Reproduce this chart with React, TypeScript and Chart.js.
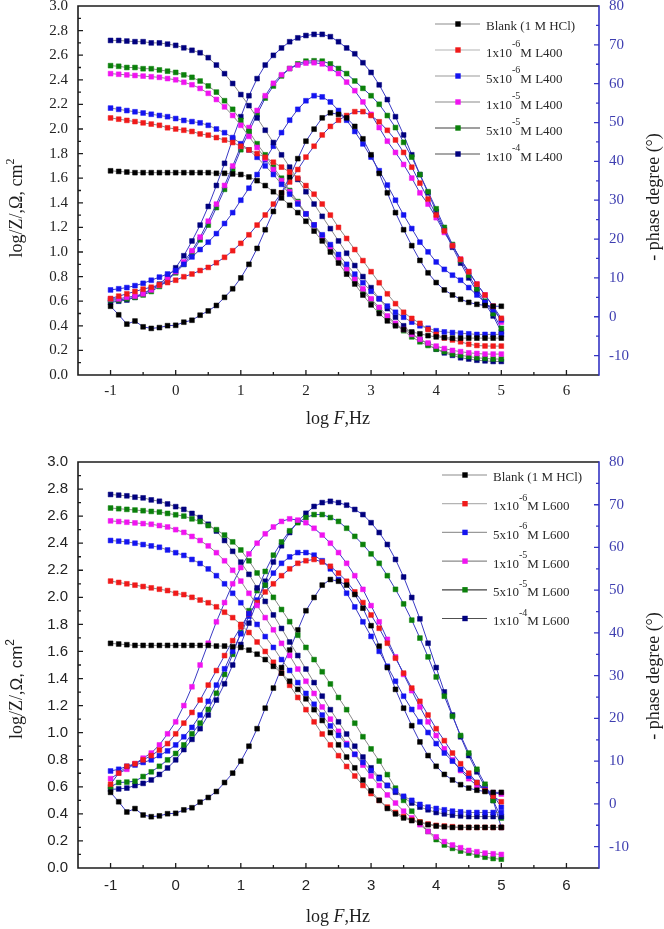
import React, { useEffect, useRef } from "react";
import { Chart, registerables } from "chart.js";

Chart.register(...registerables);

// ---------------- data ----------------
const LOG_F = [
  -1, -0.875, -0.75, -0.625, -0.5, -0.375, -0.25, -0.125, 0, 0.125, 0.25, 0.375, 0.5, 0.625, 0.75, 0.875,
  1, 1.125, 1.25, 1.375, 1.5, 1.625, 1.75, 1.875, 2, 2.125, 2.25, 2.375, 2.5, 2.625, 2.75, 2.875,
  3, 3.125, 3.25, 3.375, 3.5, 3.625, 3.75, 3.875, 4, 4.125, 4.25, 4.375, 4.5, 4.625, 4.75, 4.875, 5,
];

const X_TICKS = [-1, 0, 1, 2, 3, 4, 5, 6];
const Z_TICKS = [0, 0.2, 0.4, 0.6, 0.8, 1.0, 1.2, 1.4, 1.6, 1.8, 2.0, 2.2, 2.4, 2.6, 2.8, 3.0];
const PHASE_TICKS = [-10, 0, 10, 20, 30, 40, 50, 60, 70, 80];

const SERIES_COLORS = ["#000000", "#f01a1a", "#1414f0", "#f014f0", "#0b800b", "#00007e"];
const LEGEND_BASES = ["Blank (1 M HCl)", "1x10", "5x10", "1x10", "5x10", "1x10"];
const LEGEND_SUPS = ["", "-6", "-6", "-5", "-5", "-4"];
const LEGEND_LINE_COLORS = ["#8c8c8c", "#b4b4b4", "#9a9a9a", "#8a8a8a", "#404040", "#505050"];

// Blank (same in both panels)
const BLANK_Z = [1.66, 1.655, 1.65, 1.645, 1.645, 1.645, 1.645, 1.645, 1.645, 1.645, 1.645, 1.645, 1.645, 1.64, 1.64, 1.635, 1.63, 1.61, 1.58, 1.54, 1.49, 1.44, 1.38, 1.32, 1.25, 1.17, 1.09, 1.0, 0.91, 0.82, 0.74, 0.65, 0.57, 0.5, 0.44, 0.4, 0.37, 0.35, 0.335, 0.32, 0.31, 0.305, 0.3, 0.3, 0.3, 0.3, 0.3, 0.3, 0.3];
const BLANK_PHASE = [2.7, 0.5, -1.9, -1.1, -2.6, -3.0, -2.8, -2.3, -2.2, -1.4, -0.9, 0.4, 1.5, 2.9, 5.0, 7.2, 10.0, 13.5, 17.6, 22.4, 27.1, 31.9, 36.0, 40.7, 45.2, 48.3, 51.2, 52.5, 52.1, 51.2, 49.0, 45.8, 41.7, 36.9, 31.9, 26.8, 22.4, 18.3, 14.5, 11.3, 8.8, 6.9, 5.6, 4.5, 3.7, 3.2, 2.9, 2.7, 2.7];

// L400 panel
const L400_1E6_Z = [2.09, 2.08, 2.07, 2.06, 2.05, 2.04, 2.03, 2.01, 2.0, 1.99, 1.98, 1.96, 1.95, 1.93, 1.91, 1.89, 1.86, 1.83, 1.8, 1.77, 1.73, 1.69, 1.65, 1.6, 1.54, 1.47, 1.39, 1.3, 1.2, 1.11, 1.02, 0.93, 0.84, 0.75, 0.66, 0.58, 0.51, 0.46, 0.42, 0.37, 0.33, 0.3, 0.285, 0.27, 0.25, 0.24, 0.236, 0.235, 0.235];
const L400_1E6_PHASE = [4.7, 5.3, 5.9, 6.5, 7.1, 7.6, 8.2, 8.8, 9.4, 10.3, 11.0, 11.9, 12.7, 13.9, 15.3, 17.0, 18.9, 21.1, 23.6, 26.2, 29.0, 31.9, 34.7, 37.9, 41.1, 43.9, 46.8, 49.0, 50.6, 51.8, 52.8, 52.8, 51.8, 50.2, 48.0, 45.5, 42.3, 38.5, 34.4, 30.3, 26.2, 22.1, 18.3, 14.8, 11.6, 8.4, 5.6, 2.7, -0.4];
const L400_5E6_Z = [2.17, 2.16, 2.15, 2.14, 2.13, 2.12, 2.11, 2.1, 2.085, 2.07, 2.06, 2.05, 2.03, 2.0, 1.97, 1.93, 1.88, 1.83, 1.77, 1.7, 1.63, 1.55, 1.47, 1.39, 1.31, 1.22, 1.14, 1.06, 0.98, 0.9, 0.82, 0.75, 0.68, 0.62, 0.56, 0.51, 0.47, 0.43, 0.4, 0.38, 0.36, 0.35, 0.345, 0.34, 0.335, 0.33, 0.33, 0.33, 0.33];
const L400_5E6_PHASE = [6.9, 7.2, 7.5, 8.0, 8.6, 9.4, 10.2, 11.0, 11.9, 13.5, 15.4, 17.3, 19.2, 21.4, 24.0, 26.8, 30.0, 33.1, 36.6, 40.4, 43.9, 47.4, 50.6, 53.4, 55.6, 56.9, 56.6, 55.3, 53.1, 50.6, 47.7, 44.5, 41.1, 37.6, 33.9, 30.0, 26.2, 22.7, 19.2, 16.7, 14.1, 12.2, 10.7, 9.4, 7.5, 5.6, 3.7, 1.8, -0.8];
const L400_1E5_Z = [2.45, 2.445, 2.44, 2.435, 2.43, 2.425, 2.42, 2.41, 2.4, 2.38, 2.36, 2.33, 2.29, 2.24, 2.18, 2.11, 2.03, 1.94, 1.85, 1.76, 1.67, 1.58, 1.49, 1.4, 1.31, 1.22, 1.13, 1.04, 0.95, 0.86, 0.78, 0.7, 0.62, 0.55, 0.48, 0.42, 0.37, 0.33, 0.29, 0.26, 0.235, 0.215, 0.2, 0.19, 0.18, 0.175, 0.17, 0.17, 0.17];
const L400_1E5_PHASE = [4.6, 4.6, 5.0, 5.3, 5.9, 6.9, 8.1, 9.7, 11.6, 14.1, 17.0, 20.5, 24.6, 29.0, 33.8, 38.8, 43.9, 48.7, 53.1, 56.9, 60.1, 62.3, 63.9, 64.8, 65.3, 65.4, 65.1, 63.9, 62.6, 60.4, 58.2, 55.3, 52.1, 48.7, 45.2, 42.3, 39.2, 35.7, 31.9, 29.0, 25.5, 21.7, 18.3, 14.8, 11.6, 8.4, 5.6, 2.7, -1.4];
const L400_5E5_Z = [2.515, 2.51, 2.5, 2.5, 2.49, 2.49, 2.48, 2.47, 2.46, 2.44, 2.42, 2.39, 2.35, 2.3, 2.23, 2.16, 2.07, 1.98, 1.88, 1.79, 1.69, 1.6, 1.5, 1.41, 1.31, 1.22, 1.12, 1.03, 0.94, 0.85, 0.77, 0.68, 0.61, 0.53, 0.47, 0.41, 0.36, 0.31, 0.27, 0.24, 0.21, 0.19, 0.17, 0.16, 0.15, 0.14, 0.135, 0.13, 0.13];
const L400_5E5_PHASE = [4.3, 4.3, 4.6, 5.0, 5.6, 6.5, 7.8, 9.4, 11.3, 13.5, 16.4, 19.8, 23.6, 28.1, 32.8, 37.9, 43.0, 47.7, 52.1, 56.3, 59.4, 62.0, 63.9, 65.1, 65.8, 65.9, 65.8, 65.1, 63.9, 62.6, 60.7, 58.8, 56.9, 54.7, 51.8, 48.7, 44.9, 41.1, 36.6, 32.2, 27.8, 23.0, 18.6, 14.5, 10.7, 7.2, 4.0, 0.8, -3.0];
const L400_1E4_Z = [2.72, 2.72, 2.715, 2.71, 2.71, 2.7, 2.7, 2.69, 2.68, 2.66, 2.64, 2.62, 2.58, 2.52, 2.45, 2.37, 2.28, 2.19, 2.09, 1.99, 1.89, 1.79, 1.69, 1.59, 1.49, 1.39, 1.29, 1.19, 1.09, 0.99, 0.89, 0.8, 0.71, 0.62, 0.54, 0.47, 0.4, 0.34, 0.29, 0.25, 0.21, 0.18, 0.16, 0.14, 0.13, 0.12, 0.115, 0.11, 0.11];
const L400_1E4_PHASE = [3.7, 4.0, 4.3, 5.0, 5.9, 7.2, 8.4, 10.3, 12.6, 15.7, 19.5, 23.6, 28.4, 33.8, 39.5, 45.8, 51.5, 56.9, 61.3, 64.8, 67.3, 69.2, 70.8, 71.8, 72.4, 72.7, 72.7, 72.1, 70.8, 69.2, 67.7, 65.4, 62.9, 59.7, 55.9, 51.5, 46.8, 41.7, 36.6, 31.9, 27.1, 22.4, 17.9, 13.8, 10.0, 6.5, 3.4, 0.2, -3.9];

// L600 panel
const L600_1E6_Z = [2.12, 2.11, 2.1, 2.09, 2.08, 2.07, 2.06, 2.05, 2.03, 2.02, 2.0, 1.98, 1.96, 1.93, 1.89, 1.85, 1.8, 1.74, 1.67, 1.6, 1.52, 1.44, 1.35, 1.26, 1.17, 1.08, 0.99, 0.91, 0.83, 0.75, 0.68, 0.61, 0.55, 0.5, 0.45, 0.41, 0.38, 0.355, 0.34, 0.325, 0.315, 0.31, 0.305, 0.3, 0.3, 0.3, 0.3, 0.3, 0.3];
const L600_1E6_PHASE = [4.6, 7.2, 8.8, 9.4, 10.3, 11.3, 12.6, 14.1, 16.4, 18.9, 21.4, 24.3, 27.8, 31.2, 34.7, 38.2, 41.4, 44.5, 47.1, 49.6, 51.5, 53.4, 55.0, 56.3, 56.9, 57.2, 56.6, 55.6, 54.0, 52.1, 49.6, 47.1, 44.2, 41.1, 37.6, 34.1, 30.6, 27.1, 24.0, 20.8, 17.6, 14.8, 11.9, 9.4, 7.2, 5.0, 3.1, 1.8, 0.5];
const L600_5E6_Z = [2.42, 2.415, 2.41, 2.4, 2.39, 2.38, 2.37, 2.35, 2.33, 2.31, 2.28, 2.25, 2.21, 2.16, 2.1, 2.03, 1.96, 1.88, 1.8, 1.71, 1.63, 1.54, 1.46, 1.37, 1.29, 1.21, 1.13, 1.05, 0.98, 0.91, 0.84, 0.78, 0.72, 0.66, 0.61, 0.57, 0.53, 0.5, 0.47, 0.45, 0.44, 0.43, 0.42, 0.415, 0.41, 0.41, 0.41, 0.41, 0.41];
const L600_5E6_PHASE = [7.7, 8.1, 8.8, 9.1, 9.7, 10.3, 11.3, 12.4, 13.8, 15.7, 17.9, 20.8, 24.0, 27.8, 31.6, 35.7, 39.8, 43.9, 47.7, 51.2, 54.0, 56.3, 57.8, 58.8, 58.8, 58.2, 56.9, 55.0, 52.5, 49.3, 46.1, 42.6, 39.2, 35.7, 32.2, 28.7, 25.2, 22.1, 19.2, 16.7, 14.1, 11.9, 10.0, 8.1, 6.5, 5.0, 3.4, 2.1, -0.8];
const L600_1E5_Z = [2.565, 2.56, 2.555, 2.55, 2.545, 2.54, 2.53, 2.52, 2.5, 2.48, 2.45, 2.42, 2.38, 2.33, 2.27, 2.2, 2.12, 2.03, 1.94, 1.85, 1.76, 1.66, 1.57, 1.47, 1.38, 1.29, 1.19, 1.1, 1.01, 0.92, 0.84, 0.76, 0.68, 0.61, 0.54, 0.48, 0.42, 0.37, 0.32, 0.27, 0.23, 0.195, 0.17, 0.15, 0.13, 0.12, 0.11, 0.105, 0.1];
const L600_1E5_PHASE = [5.9, 7.2, 8.1, 9.4, 10.7, 11.9, 13.8, 16.4, 19.2, 23.0, 27.4, 32.5, 37.6, 42.6, 47.1, 51.5, 55.3, 58.5, 61.0, 63.2, 64.8, 66.1, 66.7, 66.4, 65.8, 64.5, 62.9, 61.0, 58.8, 56.3, 53.4, 50.2, 46.4, 42.6, 38.5, 34.4, 30.3, 26.5, 22.7, 19.2, 16.0, 12.9, 10.3, 7.8, 5.9, 4.3, 3.4, 2.6, 2.3];
const L600_5E5_Z = [2.66, 2.655, 2.65, 2.645, 2.64, 2.635, 2.63, 2.62, 2.61, 2.6, 2.58, 2.56, 2.53, 2.5, 2.46, 2.41, 2.35, 2.27, 2.18, 2.09, 2.0, 1.91, 1.82, 1.72, 1.63, 1.54, 1.45, 1.36, 1.26, 1.17, 1.07, 0.97, 0.88, 0.79, 0.69, 0.59, 0.5, 0.42, 0.34, 0.27, 0.21, 0.17, 0.145, 0.125, 0.11, 0.095, 0.08, 0.07, 0.065];
const L600_5E5_PHASE = [4.0, 5.0, 5.1, 5.3, 6.4, 7.5, 8.8, 10.3, 11.8, 13.8, 16.4, 18.9, 22.1, 25.9, 30.3, 35.0, 40.1, 45.2, 49.9, 54.4, 58.2, 61.3, 63.9, 65.8, 67.0, 67.7, 67.7, 67.0, 66.1, 64.5, 62.6, 60.7, 58.5, 56.3, 53.4, 50.2, 46.8, 43.0, 38.8, 34.4, 29.7, 25.2, 20.5, 16.0, 11.9, 8.1, 4.6, 0.8, -3.3];
const L600_1E4_Z = [2.76, 2.755, 2.75, 2.74, 2.735, 2.72, 2.71, 2.69, 2.67, 2.65, 2.62, 2.59, 2.54, 2.49, 2.42, 2.34, 2.26, 2.17, 2.07, 1.97, 1.87, 1.77, 1.67, 1.57, 1.47, 1.37, 1.27, 1.17, 1.08, 0.99, 0.9, 0.82, 0.74, 0.67, 0.61, 0.56, 0.52, 0.48, 0.45, 0.43, 0.41, 0.4, 0.39, 0.385, 0.38, 0.38, 0.38, 0.38, 0.38];
const L600_1E4_PHASE = [3.4, 3.5, 3.7, 4.3, 4.8, 5.6, 6.9, 8.4, 10.3, 12.7, 15.1, 17.6, 20.8, 24.3, 28.1, 32.5, 37.3, 42.3, 47.4, 52.1, 56.6, 60.4, 63.5, 66.1, 68.0, 69.6, 70.5, 70.8, 70.5, 69.9, 68.9, 67.7, 65.8, 63.5, 60.7, 57.2, 53.1, 48.3, 43.3, 37.6, 31.9, 26.2, 20.8, 15.7, 11.3, 7.5, 4.0, 0.8, -5.5];

// ---------------- styling ----------------
const SERIF = "'Liberation Serif', 'Times New Roman', serif";
const SANS = "'Liberation Sans', Arial, sans-serif";
const AXIS_BLACK = "#1c1c1c";
const AXIS_BLUE = "#3434c4";
const LABEL_BLUE = "#3e3eb0";
const Z_LINE = "#8a8a8a";
const PHASE_LINE = "#3a3ac4";

type Piece = { text: string; font: string; dy?: number };

interface Panel {
  height: number;
  padTop: number;
  xHeight: number;
  tickFamily: string;
  xPad: number;
  zSets: number[][];
  phaseSets: number[][];
  inhibitor: string;
  legLineX0: number;
  legLineX1: number;
  legMarkX: number;
  legTextX: number;
  legY0: number;
  legDy: number;
  leftTitle: Piece[];
  leftTitleY: number;
  rightTitleY: number;
  xTitleY: number;
}

function drawPieces(ctx: CanvasRenderingContext2D, pieces: Piece[], x: number, y: number, center: boolean) {
  let w = 0;
  for (const p of pieces) {
    ctx.font = p.font;
    w += ctx.measureText(p.text).width;
  }
  let cx = center ? x - w / 2 : x;
  ctx.textAlign = "left";
  ctx.textBaseline = "alphabetic";
  for (const p of pieces) {
    ctx.font = p.font;
    ctx.fillText(p.text, cx, y + (p.dy || 0));
    cx += ctx.measureText(p.text).width;
  }
}

function decorPlugin(p: Panel) {
  return {
    id: "panelDecor",
    afterDraw(chart: any) {
      const ctx: CanvasRenderingContext2D = chart.ctx;
      const { left, right, top, bottom } = chart.chartArea;
      const sx = chart.scales.x;
      const sy = chart.scales.y;
      const sy1 = chart.scales.y1;
      ctx.save();
      // black frame (left, bottom, top)
      ctx.strokeStyle = AXIS_BLACK;
      ctx.lineWidth = 1.6;
      ctx.beginPath();
      ctx.moveTo(right, top);
      ctx.lineTo(left, top);
      ctx.lineTo(left, bottom);
      ctx.lineTo(right, bottom);
      ctx.stroke();
      // inward ticks
      ctx.lineWidth = 1.3;
      ctx.beginPath();
      for (let i = 0; i <= 14; i++) {
        const v = -1 + i * 0.5;
        const px = sx.getPixelForValue(v);
        const len = i % 2 === 0 ? 5 : 3;
        ctx.moveTo(px, bottom);
        ctx.lineTo(px, bottom - len);
      }
      for (let i = 1; i < 30; i++) {
        const py = sy.getPixelForValue(i / 10);
        const len = i % 2 === 0 ? 5 : 3;
        ctx.moveTo(left, py);
        ctx.lineTo(left + len, py);
      }
      ctx.stroke();
      // blue right axis
      ctx.strokeStyle = AXIS_BLUE;
      ctx.lineWidth = 1.6;
      ctx.beginPath();
      ctx.moveTo(right, top - 0.8);
      ctx.lineTo(right, bottom + 0.8);
      ctx.stroke();
      ctx.lineWidth = 1.3;
      ctx.beginPath();
      for (let i = 0; i <= 17; i++) {
        const v = -10 + i * 5;
        const py = sy1.getPixelForValue(v);
        const len = i % 2 === 0 ? 5 : 3;
        ctx.moveTo(right, py);
        ctx.lineTo(right - len, py);
      }
      ctx.stroke();

      // legend
      for (let i = 0; i < LEGEND_BASES.length; i++) {
        const ly = p.legY0 + i * p.legDy;
        ctx.strokeStyle = LEGEND_LINE_COLORS[i];
        ctx.lineWidth = 1.2;
        ctx.beginPath();
        ctx.moveTo(p.legLineX0, ly);
        ctx.lineTo(p.legLineX1, ly);
        ctx.stroke();
        ctx.fillStyle = SERIES_COLORS[i];
        ctx.fillRect(p.legMarkX - 2.7, ly - 2.7, 5.4, 5.4);
        ctx.fillStyle = "#2a2a2a";
        if (LEGEND_SUPS[i]) {
          drawPieces(
            ctx,
            [
              { text: LEGEND_BASES[i], font: `13px ${SERIF}` },
              { text: LEGEND_SUPS[i], font: `10px ${SERIF}`, dy: -9.5 },
              { text: p.inhibitor, font: `13px ${SERIF}` },
            ],
            p.legTextX,
            ly + 6.5,
            false
          );
        } else {
          drawPieces(ctx, [{ text: LEGEND_BASES[i], font: `13px ${SERIF}` }], p.legTextX, ly + 6, false);
        }
      }

      // axis titles
      ctx.fillStyle = "#1e1e1e";
      drawPieces(
        ctx,
        [
          { text: "log ", font: `18px ${SERIF}` },
          { text: "F", font: `italic 18px ${SERIF}` },
          { text: ",Hz", font: `18px ${SERIF}` },
        ],
        338,
        p.xTitleY,
        true
      );
      ctx.save();
      ctx.translate(22, p.leftTitleY);
      ctx.rotate(-Math.PI / 2);
      drawPieces(ctx, p.leftTitle, 0, 0, true);
      ctx.restore();
      ctx.save();
      ctx.translate(659, p.rightTitleY);
      ctx.rotate(-Math.PI / 2);
      drawPieces(ctx, [{ text: "- phase degree (°)", font: `18px ${SERIF}` }], 0, 0, true);
      ctx.restore();
      ctx.restore();
    },
  };
}

function buildDatasets(zSets: number[][], phaseSets: number[][]) {
  const ds: any[] = [];
  zSets.forEach((z, i) => {
    ds.push({
      data: LOG_F.map((f, k) => ({ x: f, y: z[k] })),
      yAxisID: "y",
      borderColor: Z_LINE,
      borderWidth: 1,
      pointStyle: "rect",
      pointRadius: 3.4,
      pointBackgroundColor: SERIES_COLORS[i],
      pointBorderColor: SERIES_COLORS[i],
      pointBorderWidth: 0.5,
      tension: 0,
      fill: false,
    });
  });
  phaseSets.forEach((ph, i) => {
    ds.push({
      data: LOG_F.map((f, k) => ({ x: f, y: ph[k] })),
      yAxisID: "y1",
      borderColor: PHASE_LINE,
      borderWidth: 1,
      pointStyle: "rect",
      pointRadius: 3.4,
      pointBackgroundColor: SERIES_COLORS[i],
      pointBorderColor: SERIES_COLORS[i],
      pointBorderWidth: 0.5,
      tension: 0,
      fill: false,
    });
  });
  return ds;
}

function zeroPad(s: any) {
  s.paddingTop = 0;
  s.paddingBottom = 0;
  s.paddingLeft = 0;
  s.paddingRight = 0;
}

function makeChart(canvas: HTMLCanvasElement, p: Panel) {
  const tickFont = { family: p.tickFamily, size: 15 };
  return new Chart(canvas, {
    type: "line",
    data: { datasets: buildDatasets(p.zSets, p.phaseSets) },
    options: {
      animation: false,
      responsive: false,
      maintainAspectRatio: false,
      events: [],
      layout: { padding: { top: p.padTop, left: 0, right: 0, bottom: 0 } },
      plugins: { legend: { display: false }, tooltip: { enabled: false } },
      scales: {
        x: {
          type: "linear",
          position: "bottom",
          min: -1.5,
          max: 6.5,
          afterBuildTicks: (s: any) => {
            s.ticks = X_TICKS.map((v) => ({ value: v }));
          },
          afterFit: (s: any) => {
            s.height = p.xHeight;
            zeroPad(s);
          },
          grid: { display: false, drawTicks: false },
          border: { display: false },
          ticks: {
            font: tickFont,
            color: "#222",
            padding: p.xPad,
            autoSkip: false,
            maxRotation: 0,
            callback: (v: any) => String(v),
          },
        },
        y: {
          type: "linear",
          position: "left",
          min: 0,
          max: 3,
          afterBuildTicks: (s: any) => {
            s.ticks = Z_TICKS.map((v) => ({ value: v }));
          },
          afterFit: (s: any) => {
            s.width = 78;
            zeroPad(s);
          },
          grid: { display: false, drawTicks: false },
          border: { display: false },
          ticks: {
            font: tickFont,
            color: "#222",
            padding: 10,
            autoSkip: false,
            callback: (v: any) => Number(v).toFixed(1),
          },
        },
        y1: {
          type: "linear",
          position: "right",
          min: -15,
          max: 80,
          afterBuildTicks: (s: any) => {
            s.ticks = PHASE_TICKS.map((v) => ({ value: v }));
          },
          afterFit: (s: any) => {
            s.width = 65;
            zeroPad(s);
          },
          grid: { display: false, drawTicks: false },
          border: { display: false },
          ticks: {
            font: { family: SERIF, size: 15 },
            color: LABEL_BLUE,
            padding: 10,
            autoSkip: false,
            callback: (v: any) => String(v),
          },
        },
      },
    } as any,
    plugins: [decorPlugin(p)],
  });
}

const TOP_PANEL: Panel = {
  height: 440,
  padTop: 6,
  xHeight: 65,
  tickFamily: SERIF,
  xPad: 7,
  zSets: [BLANK_Z, L400_1E6_Z, L400_5E6_Z, L400_1E5_Z, L400_5E5_Z, L400_1E4_Z],
  phaseSets: [BLANK_PHASE, L400_1E6_PHASE, L400_5E6_PHASE, L400_1E5_PHASE, L400_5E5_PHASE, L400_1E4_PHASE],
  inhibitor: "M L400",
  legLineX0: 435,
  legLineX1: 480,
  legMarkX: 458,
  legTextX: 486,
  legY0: 24,
  legDy: 26,
  leftTitle: [
    { text: "log/Z/,Ω, cm", font: `18px ${SERIF}` },
    { text: "2", font: `12px ${SERIF}`, dy: -8 },
  ],
  leftTitleY: 208,
  rightTitleY: 197,
  xTitleY: 424,
};

const BOTTOM_PANEL: Panel = {
  height: 489,
  padTop: 22,
  xHeight: 61,
  tickFamily: SANS,
  xPad: 9,
  zSets: [BLANK_Z, L600_1E6_Z, L600_5E6_Z, L600_1E5_Z, L600_5E5_Z, L600_1E4_Z],
  phaseSets: [BLANK_PHASE, L600_1E6_PHASE, L600_5E6_PHASE, L600_1E5_PHASE, L600_5E5_PHASE, L600_1E4_PHASE],
  inhibitor: "M L600",
  legLineX0: 442,
  legLineX1: 487,
  legMarkX: 465,
  legTextX: 493,
  legY0: 35,
  legDy: 28.7,
  leftTitle: [
    { text: "log/Z/,", font: `18px ${SERIF}` },
    { text: "Ω, cm", font: `17px ${SANS}` },
    { text: "2", font: `12px ${SANS}`, dy: -8 },
  ],
  leftTitleY: 249,
  rightTitleY: 236,
  xTitleY: 482,
};

function PanelCanvas({ panel, top }: { panel: Panel; top: number }) {
  const ref = useRef<HTMLCanvasElement | null>(null);
  useEffect(() => {
    if (!ref.current) return;
    const chart = makeChart(ref.current, panel);
    return () => chart.destroy();
  }, [panel]);
  return (
    <canvas
      ref={ref}
      width={664}
      height={panel.height}
      style={{ position: "absolute", left: 0, top, width: 664, height: panel.height, display: "block" }}
    />
  );
}

export default function App() {
  return (
    <div
      style={{
        position: "fixed",
        left: 0,
        top: 0,
        width: 664,
        height: 929,
        background: "#ffffff",
        overflow: "hidden",
      }}
    >
      <PanelCanvas panel={TOP_PANEL} top={0} />
      <PanelCanvas panel={BOTTOM_PANEL} top={440} />
    </div>
  );
}
